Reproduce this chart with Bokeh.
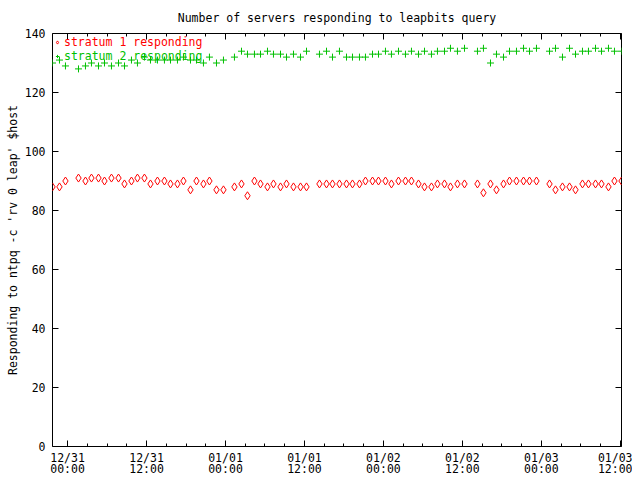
import pandas as pd
from bokeh.plotting import figure
from bokeh.models import (Range1d, LinearAxis, DatetimeAxis, FixedTicker, Legend, LegendItem,
                          DatetimeTickFormatter, CustomJSTickFormatter, ColumnDataSource)
from bokeh.embed import file_html
from bokeh.resources import INLINE

# hours relative to 12/31 00:00
hours = [-2.29, -1.23, -0.32, 1.66, 2.72, 3.63, 4.70, 5.61, 6.67, 7.74,
         8.65, 9.71, 10.62, 11.68, 12.60, 13.66, 14.72, 15.64, 16.70, 17.61,
         18.68, 19.59, 20.65, 21.56, 22.63, 23.69, 25.36, 26.43, 27.34, 28.40,
         29.32, 30.38, 31.29, 32.36, 33.27, 34.33, 35.40, 36.31, 38.28, 39.35,
         40.26, 41.32, 42.39, 43.30, 44.36, 45.27, 46.34, 47.25, 48.31, 49.22,
         50.29, 51.35, 52.26, 53.33, 54.24, 55.30, 56.21, 57.28, 58.19, 59.25,
         60.32, 62.29, 63.20, 64.27, 65.18, 66.25, 67.16, 68.22, 69.29, 70.20,
         71.26, 73.24, 74.15, 75.21, 76.28, 77.19, 78.25, 79.16, 80.23, 81.14,
         82.20, 83.11, 84.18]

stratum1 = [88, 88, 90, 91, 90, 91, 91, 90, 91, 91,
            89, 90, 91, 91, 89, 90, 90, 89, 89, 90,
            87, 90, 89, 90, 87, 87, 88, 89, 85, 90,
            89, 88, 89, 88, 89, 88, 88, 88, 89, 89,
            89, 89, 89, 89, 89, 90, 90, 90, 90, 89,
            90, 90, 90, 89, 88, 88, 89, 89, 88, 89,
            89, 89, 86, 89, 87, 89, 90, 90, 90, 90,
            90, 89, 87, 88, 88, 87, 89, 89, 89, 89,
            88, 90, 90]

stratum2 = [130, 131, 129, 128, 129, 130, 129, 130, 129, 130,
            129, 131, 130, 132, 131, 131, 131, 131, 131, 132,
            131, 131, 130, 132, 130, 131, 132, 134, 133, 133,
            133, 134, 133, 133, 132, 133, 132, 134, 133, 134,
            132, 134, 132, 132, 132, 132, 133, 133, 134, 133,
            134, 133, 134, 133, 134, 133, 134, 134, 135, 134,
            135, 134, 135, 130, 133, 132, 134, 134, 135, 134,
            135, 134, 135, 132, 135, 133, 134, 134, 135, 134,
            135, 134, 134]

tick_hours = [0, 12, 24, 36, 48, 60, 72, 84]
y_ticks = [0, 20, 40, 60, 80, 100, 120, 140]

base = pd.Timestamp("2019-12-31 00:00")
times = base + pd.to_timedelta(hours, unit="h")
src = ColumnDataSource(dict(t=times, s1=stratum1, s2=stratum2))

def ms(h):
    return (base + pd.Timedelta(hours=h)).value / 1e6

major = [ms(h) for h in tick_hours]
minor = [ms(h) for h in range(-3, 88, 3)]
xticker = FixedTicker(ticks=major, minor_ticks=minor)
yticker = FixedTicker(ticks=y_ticks)

FONT = "DejaVu Sans Mono"
FS = "11.5px"

p = figure(width=632, height=479, output_backend="svg", toolbar_location=None,
           x_axis_type="datetime",
           x_range=Range1d(ms(hours[0]), ms(hours[-1])), y_range=Range1d(0, 140),
           min_border_left=52, min_border_right=11, min_border_top=33, min_border_bottom=33,
           background_fill_color="white", border_fill_color="white")

p.title.text = "Number of servers responding to leapbits query"
p.title.align = "center"
p.title.text_font = FONT
p.title.text_font_size = FS
p.title.text_font_style = "normal"
p.title.text_color = "black"
p.title.standoff = 17

p.xgrid.visible = False
p.ygrid.visible = False
p.outline_line_color = "black"
p.outline_line_alpha = 1.0

fmt = DatetimeTickFormatter(hours="%m/%d\n%H:%M", hourmin="%m/%d\n%H:%M",
                            days="%m/%d\n%H:%M", minutes="%m/%d\n%H:%M")

def style(ax):
    ax.axis_line_color = None
    ax.major_tick_in = 6
    ax.major_tick_out = 0
    ax.minor_tick_in = 3
    ax.minor_tick_out = 0
    ax.major_tick_line_color = "black"
    ax.minor_tick_line_color = "black"
    ax.major_label_text_font = FONT
    ax.major_label_text_font_size = FS
    ax.major_label_text_color = "black"

xa = p.xaxis[0]
xa.ticker = xticker
xa.formatter = fmt
style(xa)
xa.major_label_standoff = 4
xa.major_label_text_line_height = 0.8

ya = p.yaxis[0]
ya.ticker = yticker
style(ya)
ya.minor_tick_in = 0
ya.major_label_standoff = 7
ya.axis_label = "Responding to ntpq -c 'rv 0 leap' $host"
ya.axis_label_text_font = FONT
ya.axis_label_text_font_size = FS
ya.axis_label_text_font_style = "normal"
ya.axis_label_text_color = "black"
ya.axis_label_standoff = 2

blank = CustomJSTickFormatter(code="return ''")
top = DatetimeAxis(ticker=xticker, formatter=blank)
style(top)
top.major_label_standoff = 0
p.add_layout(top, "above")
right = LinearAxis(ticker=yticker, formatter=blank)
style(right)
right.minor_tick_in = 0
right.major_label_standoff = 0
p.add_layout(right, "right")

r1 = p.scatter("t", "s1", source=src, marker="diamond", size=8, fill_color=None,
               line_color="#ff0000", line_width=1)
r2 = p.scatter("t", "s2", source=src, marker="cross", size=7,
               line_color="#00c000", line_width=1)

for r, lab, col, yloc in [(r1, "stratum 1 responding", "#ff0000", 397),
                          (r2, "stratum 2 responding", "#00c000", 383)]:
    lg = Legend(items=[LegendItem(label=lab, renderers=[r])], location=(1, yloc),
                background_fill_alpha=0, border_line_color=None, padding=0, margin=0,
                spacing=0, glyph_width=8, glyph_height=10, label_height=10,
                label_standoff=3, label_text_font=FONT, label_text_font_size=FS,
                label_text_color=col)
    p.add_layout(lg)

open("out.html", "w").write(file_html(p, INLINE))
